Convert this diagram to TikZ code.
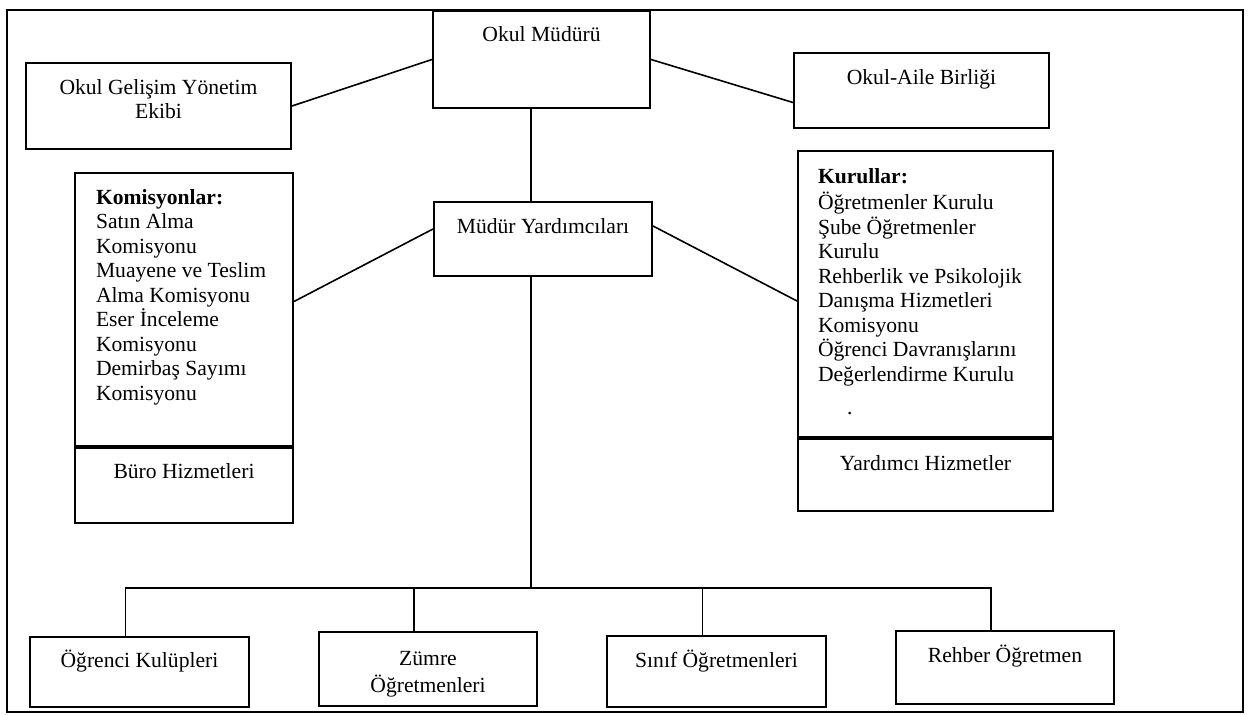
\documentclass[tikz,border=0pt]{standalone}
\usepackage{fontspec}
\setmainfont{Liberation Serif}
\usepackage{tikz}
\usetikzlibrary{positioning}
\tikzstyle{kutu} = [draw=black, line width=1pt, rectangle, inner sep=0pt, fill=white, font=\fontsize{10.8}{12.25}\selectfont]
\tikzstyle{baglanti} = [draw=black, line width=0.8pt]
\tikzstyle{cerceve} = [draw=black, line width=1.3pt]

\begin{document}
\begin{tikzpicture}[x=0.5pt,y=-0.5pt]
\useasboundingbox (0,0) rectangle (1256,715);
\draw[cerceve] (7,10) rectangle (1243,712);

% ust sira
\node[kutu, anchor=north west] (mudur) at (432,10) {%
	\begin{minipage}[c][48.5pt][t]{108.5pt}\centering
		\vspace*{6.5pt}\strut Okul Müdürü
	\end{minipage}};
\node[kutu, anchor=north west] (gelisim) at (25,62) {%
	\begin{minipage}[c][43pt][t]{132.5pt}\centering
		\vspace*{7pt}\strut Okul Gelişim Yönetim\\ Ekibi
	\end{minipage}};
\node[kutu, anchor=north west] (aile) at (793,52) {%
	\begin{minipage}[c][37.5pt][t]{127.5pt}\centering
		\vspace*{7pt}\strut Okul-Aile Birliği
	\end{minipage}};

% orta sira
\node[kutu, anchor=north west] (yardimci) at (433,201) {%
	\begin{minipage}[c][37pt][t]{109pt}\centering
		\vspace*{7pt}\strut Müdür Yardımcıları
	\end{minipage}};
\node[kutu, anchor=north west] (komisyon) at (74,172) {%
	\begin{minipage}[c][136.5pt][t]{109pt}\raggedright\leftskip=10.5pt
		\vspace*{7pt}\strut\textbf{Komisyonlar:}\\
		Satın Alma\\
		Komisyonu\\
		Muayene ve Teslim\\
		Alma Komisyonu\\
		Eser İnceleme\\
		Komisyonu\\
		Demirbaş Sayımı\\
		Komisyonu
	\end{minipage}};
\node[kutu, below=0pt of komisyon] (buro) {%
	\begin{minipage}[c][37.5pt][t]{109pt}\centering
		\vspace*{6.5pt}\strut Büro Hizmetleri
	\end{minipage}};
\node[kutu, anchor=north west] (kurullar) at (797,150) {%
	\begin{minipage}[c][143pt][t]{127.5pt}\raggedright\leftskip=10pt
		\vspace*{7.5pt}\strut\textbf{Kurullar:}\\
		Öğretmenler Kurulu\\
		Şube Öğretmenler\\
		Kurulu\\
		Rehberlik ve Psikolojik\\
		Danışma Hizmetleri\\
		Komisyonu\\
		Öğrenci Davranışlarını\\
		Değerlendirme Kurulu\\[4.5pt]
		\hspace*{14.5pt}.
	\end{minipage}};
\node[kutu, below=0pt of kurullar] (yrdhizmet) {%
	\begin{minipage}[c][36pt][t]{127.5pt}\centering
		\vspace*{7pt}\strut Yardımcı Hizmetler
	\end{minipage}};

% alt sira
\node[kutu, anchor=north west] (ogrenci) at (29,636) {%
	\begin{minipage}[c][35pt][t]{109.5pt}\centering
		\vspace*{6.5pt}\strut Öğrenci Kulüpleri
	\end{minipage}};
\node[kutu, anchor=north west] (zumre) at (318,631) {%
	\begin{minipage}[c][37pt][t]{109pt}\centering
		\vspace*{8pt}\strut Zümre\\ Öğretmenleri
	\end{minipage}};
\node[kutu, anchor=north west] (sinif) at (606,635) {%
	\begin{minipage}[c][35.5pt][t]{109.5pt}\centering
		\vspace*{7pt}\strut Sınıf Öğretmenleri
	\end{minipage}};
\node[kutu, anchor=north west] (rehber) at (895,630) {%
	\begin{minipage}[c][36.5pt][t]{109pt}\centering
		\vspace*{7pt}\strut Rehber Öğretmen
	\end{minipage}};

% baglantilar
\coordinate (bus) at (531,588);
\draw[baglanti] (mudur.west) -- (gelisim.east);
\draw[baglanti] (mudur.east) -- ([yshift=-6pt]aile.west);
\draw[baglanti] (mudur.south -| bus) -- (yardimci.north -| bus);
\draw[baglanti] ([yshift=5pt]yardimci.west) -- ([yshift=4pt]komisyon.east);
\draw[baglanti] ([yshift=6.5pt]yardimci.east) -- ([yshift=-3.5pt]kurullar.west);
\draw[baglanti] (yardimci.south -| bus) -- (bus);
\draw[baglanti] ([xshift=-7pt]ogrenci.north) |- (bus) -| ([xshift=-7pt]rehber.north);
\draw[baglanti] ([xshift=-7pt]zumre.north) -- ([xshift=-7pt]zumre.north |- bus);
\draw[baglanti] ([xshift=-7pt]sinif.north) -- ([xshift=-7pt]sinif.north |- bus);
\end{tikzpicture}
\end{document}
